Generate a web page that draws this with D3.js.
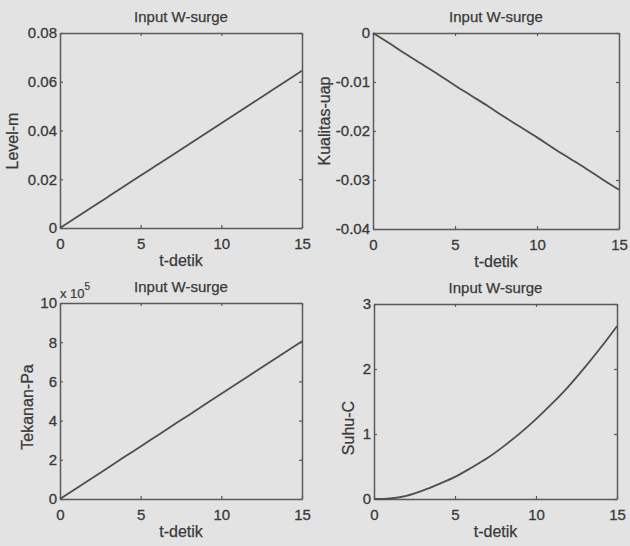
<!DOCTYPE html>
<html>
<head>
<meta charset="utf-8">
<script src="https://cdn.jsdelivr.net/npm/d3@7"></script>
<style>
  body { margin: 0; background: #e3e3e3; }
  svg { display: block; font-family: "Liberation Sans", Arial, sans-serif; }
</style>
</head>
<body>
<figure id="wsurge" style="margin:0"></figure>
<script>
// time axis (detik) shared by all four panels
var tDetik = [0, 1, 2, 3, 4, 5, 6, 7, 8, 9, 10, 11, 12, 13, 14, 15];

// series
var levelM = [0, 0.0043, 0.0086, 0.0129, 0.0172, 0.0215, 0.0258, 0.0301, 0.0344, 0.0387, 0.043, 0.0473, 0.0516, 0.0559, 0.0602, 0.0645];
var kualitasUap = [0, -0.0021, -0.0043, -0.0064, -0.0085, -0.0107, -0.0128, -0.0149, -0.0171, -0.0192, -0.0213, -0.0235, -0.0256, -0.0277, -0.0299, -0.032];
var tekananPa = [0, 54000, 107000, 161000, 215000, 268000, 322000, 376000, 429000, 483000, 537000, 590000, 644000, 698000, 751000, 805000];
var suhuC = [0, 0.01, 0.05, 0.13, 0.23, 0.34, 0.48, 0.63, 0.81, 1.01, 1.23, 1.47, 1.73, 2.02, 2.33, 2.66];

// tick labels
var xTicks = [0, 5, 10, 15];
var levelTicks = [0, 0.02, 0.04, 0.06, 0.08];
var kualitasTicks = [-0.04, -0.03, -0.02, -0.01, 0];
var tekananTicks = [0, 2, 4, 6, 8, 10];   // x 10^5
var suhuTicks = [0, 1, 2, 3];

var titleText = "Input W-surge";
var xLabel = "t-detik";

function wsurge() {
    var W = 630, H = 546;
    var textCol = "#3a3a3a", axisCol = "#5a5a5a", lineCol = "#4e4e4e";

    // matlab prints a plain hyphen, not the unicode minus d3.format gives
    var plain = function(d) { return String(+d.toFixed(2)); };

    var svg = d3.select("figure#wsurge")
        .append("svg")
        .attr("width", W)
        .attr("height", H);

    // one entry per subplot, box in page pixels, label centre
    var panels = [
        {box: [60, 33, 302, 228], y: levelM, yDom: [0, 0.08], yTicks: levelTicks, fmt: plain, label: "Level-m", lab: [12, 141]},
        {box: [373, 33, 619, 229], y: kualitasUap, yDom: [-0.04, 0], yTicks: kualitasTicks, fmt: plain, label: "Kualitas-uap", lab: [324, 121]},
        {box: [60, 303, 302, 499], y: tekananPa, yDom: [0, 1e6], yTicks: tekananTicks.map(function(d) { return d * 1e5; }), fmt: function(d) { return d / 1e5; }, label: "Tekanan-Pa", lab: [27, 407], expo: true},
        {box: [374, 304, 617, 499], y: suhuC, yDom: [0, 3], yTicks: suhuTicks, fmt: plain, label: "Suhu-C", lab: [348, 428]}
    ];

    panels.forEach(function(p) {
        var x0 = p.box[0], y0 = p.box[1], x1 = p.box[2], y1 = p.box[3];

        var x = d3.scaleLinear().domain([0, 15]).range([x0, x1]);
        var y = d3.scaleLinear().domain(p.yDom).range([y1, y0]);

        var g = svg.append("g");

        // MATLAB style box, ticks pointing inward on all four sides
        g.append("g")
            .attr("transform", "translate(0," + y1 + ")")
            .call(d3.axisBottom(x).tickValues(xTicks).tickSize(-3).tickPadding(10).tickSizeOuter(0));
        g.append("g")
            .attr("transform", "translate(0," + y0 + ")")
            .call(d3.axisTop(x).tickValues(xTicks).tickSize(-3).tickFormat("").tickSizeOuter(0));
        g.append("g")
            .attr("transform", "translate(" + x0 + ",0)")
            .call(d3.axisLeft(y).tickValues(p.yTicks).tickSize(-3).tickPadding(3).tickFormat(p.fmt).tickSizeOuter(0));
        g.append("g")
            .attr("transform", "translate(" + x1 + ",0)")
            .call(d3.axisRight(y).tickValues(p.yTicks).tickSize(-3).tickFormat("").tickSizeOuter(0));

        g.selectAll(".domain").attr("stroke", axisCol).attr("stroke-width", 1.5);
        g.selectAll(".tick line").attr("stroke", axisCol).attr("stroke-width", 1.2);
        g.selectAll(".tick text")
            .attr("fill", textCol)
            .attr("stroke", textCol)
            .attr("stroke-width", 0.3)
            .style("font-size", "15px")
            .style("font-family", "Liberation Sans, Arial, sans-serif");

        // the curve
        var line = d3.line()
            .x(function(d, i) { return x(tDetik[i]); })
            .y(function(d) { return y(d); })
            .curve(d3.curveMonotoneX);
        g.append("path")
            .datum(p.y)
            .attr("d", line)
            .attr("fill", "none")
            .attr("stroke", lineCol)
            .attr("stroke-width", 1.8);

        // title
        g.append("text")
            .attr("x", (x0 + x1) / 2)
            .attr("y", y0 - 11)
            .attr("text-anchor", "middle")
            .attr("fill", textCol)
            .attr("stroke", textCol)
            .attr("stroke-width", 0.25)
            .style("font-size", "15px")
            .text(titleText);

        // x label
        g.append("text")
            .attr("x", (x0 + x1) / 2)
            .attr("y", y1 + 38)
            .attr("text-anchor", "middle")
            .attr("fill", textCol)
            .attr("stroke", textCol)
            .attr("stroke-width", 0.25)
            .style("font-size", "16px")
            .text(xLabel);

        // y label
        g.append("text")
            .attr("transform", "translate(" + p.lab[0] + "," + p.lab[1] + ") rotate(-90)")
            .attr("text-anchor", "middle")
            .attr("dy", "0.35em")
            .attr("fill", textCol)
            .attr("stroke", textCol)
            .attr("stroke-width", 0.25)
            .style("font-size", "16px")
            .text(p.label);

        // x 10^5 multiplier
        if (p.expo) {
            var ex = g.append("text")
                .attr("x", x0)
                .attr("y", y0 - 5)
                .attr("fill", textCol)
                .attr("stroke", textCol)
                .attr("stroke-width", 0.2)
                .style("font-size", "13px");
            ex.append("tspan").text("x 10");
            ex.append("tspan").attr("dy", -8).style("font-size", "10px").text("5");
        }
    });
}

wsurge();
</script>
</body>
</html>
